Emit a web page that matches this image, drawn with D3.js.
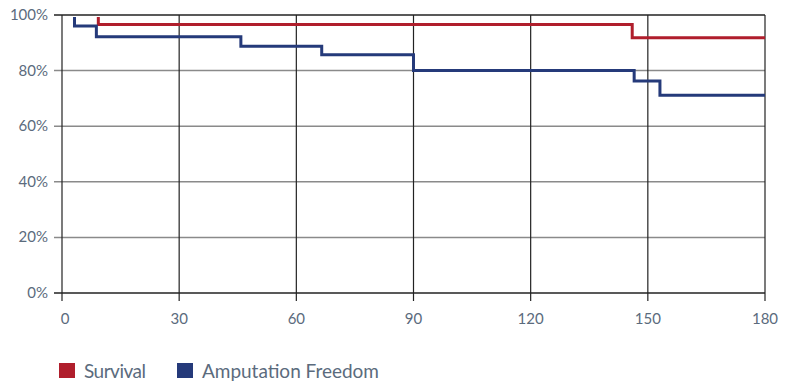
<!DOCTYPE html>
<html><head><meta charset="utf-8">
<script src="https://cdn.jsdelivr.net/npm/d3@7"></script>
<style>body{margin:0;background:#fff}svg{display:block}text{font-family:Lato,"Noto Sans",sans-serif}</style>
</head><body><svg id="c" width="793" height="383"></svg>
<script>
const xTicks = [0, 30, 60, 90, 120, 150, 180];
const yTicks = [0, 0.2, 0.4, 0.6, 0.8, 1.0];
const survivalDays = [0, 9.3, 146, 180];
const survivalVals = [1.0, 0.966, 0.918, 0.918];
const ampDays = [0, 3.2, 8.8, 45.8, 66.5, 90, 146.5, 153.1, 180];
const ampVals = [1.0, 0.960, 0.922, 0.888, 0.857, 0.800, 0.763, 0.711, 0.711];
const seriesNames = ["Survival", "Amputation Freedom"];
const seriesColors = ["#b01e2c", "#253a7a"];

const svg = d3.select("#c");
const x = d3.scaleLinear().domain([0, 180]).range([62, 765]);
const y = d3.scaleLinear().domain([0, 1]).range([293, 15]);

// horizontal grid
svg.append("g").selectAll("line").data(yTicks.filter(d => d > 0 && d < 1)).join("line")
  .attr("x1", 54).attr("x2", 765).attr("y1", d => y(d)).attr("y2", d => y(d))
  .attr("stroke", "#8a8a8a").attr("stroke-width", 1.5);
// vertical grid
svg.append("g").selectAll("line").data(xTicks).join("line")
  .attr("x1", d => x(d)).attr("x2", d => x(d)).attr("y1", y(1)).attr("y2", 301)
  .attr("stroke", "#222").attr("stroke-width", 1.2);

svg.append("defs").append("clipPath").attr("id", "clip").append("rect")
  .attr("x", 60).attr("y", y(1) + 2).attr("width", 720).attr("height", 300);

const line = d3.line().x(d => x(d[0])).y(d => y(d[1])).curve(d3.curveStepAfter);
const data = [d3.zip(survivalDays, survivalVals), d3.zip(ampDays, ampVals)];
svg.append("g").attr("clip-path", "url(#clip)").selectAll("path").data(data).join("path")
  .attr("d", line).attr("fill", "none")
  .attr("stroke", (d, i) => seriesColors[i]).attr("stroke-width", 3);

// top and bottom lines
[0, 1].forEach(v => svg.append("line").attr("x1", 54).attr("x2", 765)
  .attr("y1", y(v)).attr("y2", y(v)).attr("stroke", "#222").attr("stroke-width", 1.4));

// y labels
svg.append("g").selectAll("text").data(yTicks).join("text")
  .attr("x", 48).attr("y", d => y(d) + 5).attr("text-anchor", "end")
  .attr("font-size", 15).attr("fill", "#5b6b7d").text(d => Math.round(d * 100) + "%");
// x labels
svg.append("g").selectAll("text").data(xTicks).join("text")
  .attr("x", d => x(d) + (d === 0 ? 3 : 0)).attr("y", 324).attr("text-anchor", "middle")
  .attr("font-size", 15).attr("fill", "#5b6b7d").text(d => d);

// legend
const legX = [59, 177];
const lg = svg.append("g").selectAll("g").data(seriesNames).join("g")
  .attr("transform", (d, i) => `translate(${legX[i]},363)`);
lg.append("rect").attr("width", 16).attr("height", 15).attr("fill", (d, i) => seriesColors[i]);
lg.append("text").attr("x", 25).attr("y", 15).attr("font-size", 19).attr("fill", "#5b6b7d")
  .attr("textLength", (d, i) => [62, 177][i]).text(d => d);
</script></body></html>
